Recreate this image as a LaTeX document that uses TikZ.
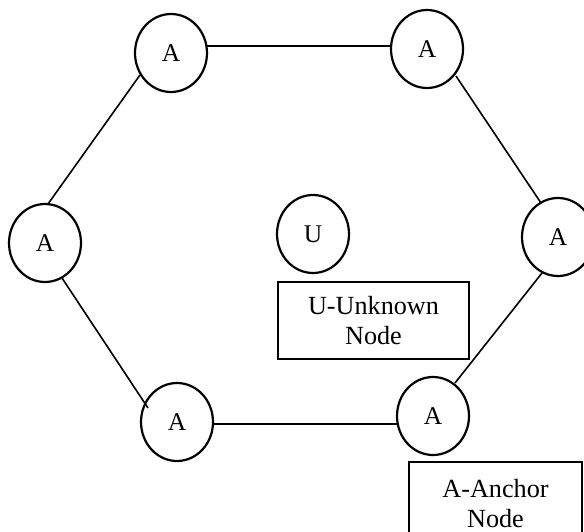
\documentclass[tikz,border=0pt]{standalone}
\usepackage{fontspec}
\setmainfont{Liberation Serif}
\usetikzlibrary{shapes.geometric,calc}
\begin{document}
\begin{tikzpicture}[x=1pt,y=-1pt,
  anc/.style={ellipse,draw,line width=2.2pt,minimum width=72pt,minimum height=78pt,inner sep=0pt,font=\fontsize{25.5}{30}\selectfont},
  edge/.style={line width=1.6pt},
  lbox/.style={draw,line width=1.4pt,inner sep=0pt,align=center,font=\fontsize{26.2}{30.5}\selectfont}]
\useasboundingbox (0,0) rectangle (584,532);
\clip (0,0) rectangle (584,532);
\node[anc] (a1) at (171,53) {A};
\node[anc] (a2) at (427,49) {A};
\node[anc] (a3) at (558,237) {A};
\node[anc] (a4) at (45,243) {A};
\node[anc] (a5) at (177,422) {A};
\node[anc] (a6) at (433,416) {A};
\node[anc] (u) at (313,234) {U};
\node[lbox,minimum width=191pt,minimum height=77pt] (ubox) at (373.5,320.5) {U-Unknown\\Node};
\node[lbox,minimum width=173pt,minimum height=83pt] (abox) at (495.5,503.5) {A-Anchor\\Node};
\draw[edge] ($(a1)+(36,-7)$) -- ($(a2)+(-35,-3)$);
\draw[edge] ($(a1)+(-31,22)$) -- ($(a4)+(3,-39)$);
\draw[edge] ($(a4)+(17,35)$) -- ($(a5)+(-29,-14)$);
\draw[edge] ($(a5)+(35,2)$) -- ($(a6)+(-36,8)$);
\draw[edge] ($(a6)+(22,-33)$) -- ($(a3)+(-16,36)$);
\draw[edge] ($(a2)+(29,27)$) -- ($(a3)+(-17,-34)$);
\end{tikzpicture}
\end{document}
